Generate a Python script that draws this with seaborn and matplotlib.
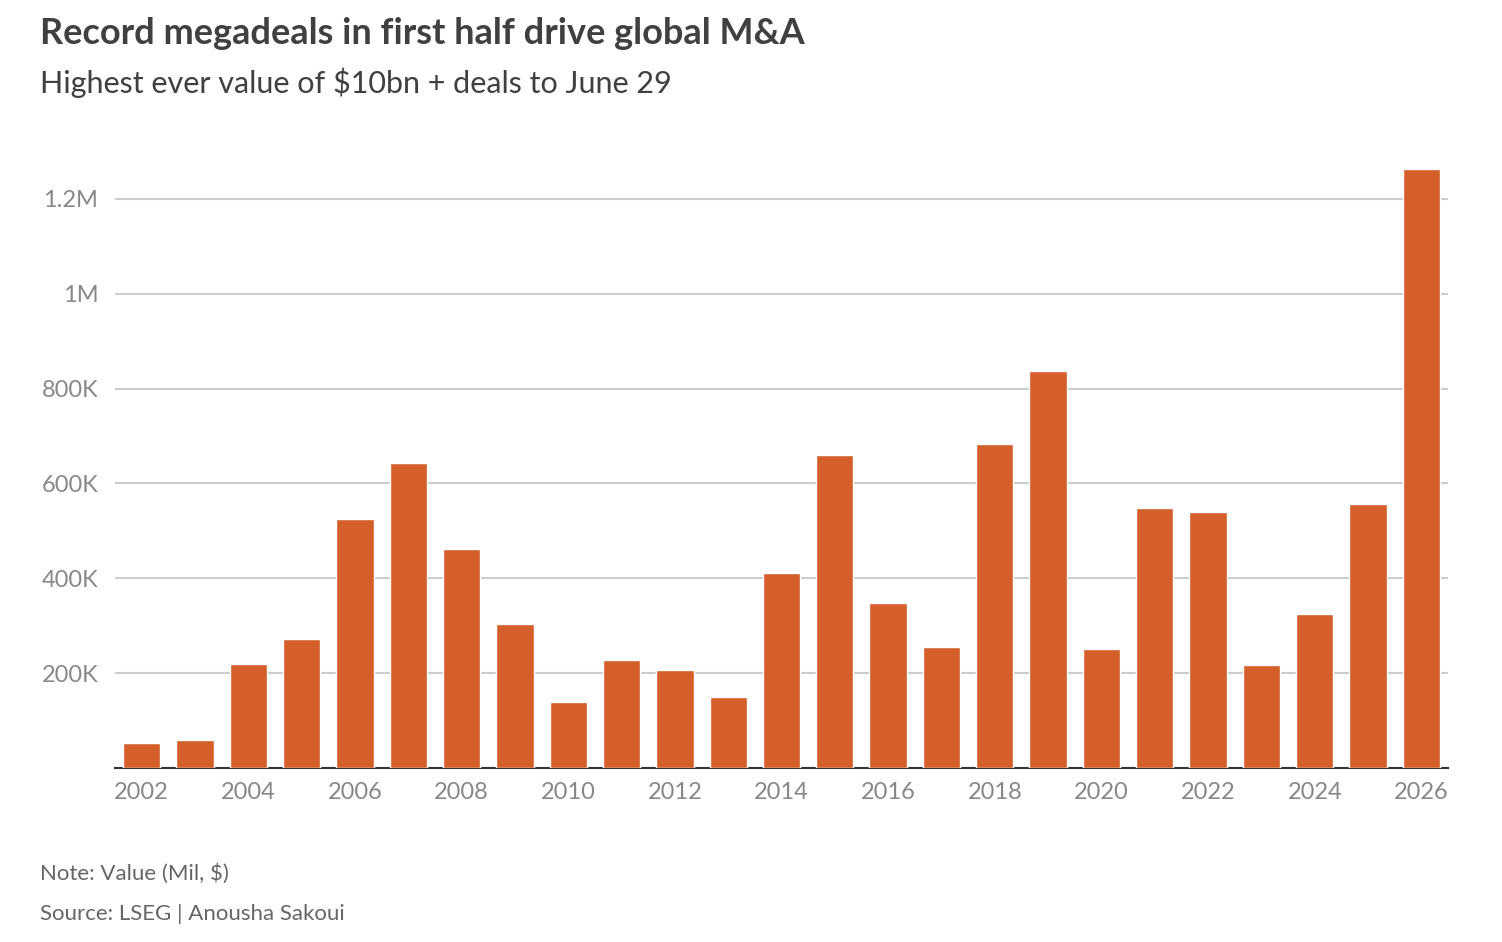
import matplotlib
matplotlib.use("Agg")
import matplotlib.pyplot as plt
import seaborn as sns
import pandas as pd

years = list(range(2002, 2027))
values = [53, 59, 219, 272, 524, 642, 461, 303, 139, 227, 206, 149, 411, 659,
          347, 255, 682, 836, 251, 549, 539, 217, 324, 556, 1263]  # thousand mil $
tick_vals = [200, 400, 600, 800, 1000, 1200]
tick_labels = ["200K", "400K", "600K", "800K", "1M", "1.2M"]

df = pd.DataFrame({"year": years, "value": values})

sns.set_style("white")
plt.rcParams['font.family'] = ['Lato', 'DejaVu Sans']

fig = plt.figure(figsize=(15.02, 9.42), dpi=100)
ax = fig.add_axes([115/1502, 1 - 768/942, (1448-115)/1502, (768-130)/942])

sns.barplot(x="year", y="value", data=df, color="#D45F2B", width=0.7,
            saturation=1, ax=ax, zorder=3)

ax.set_ylim(0, 1345)
ax.set_xlim(-0.5, len(years) - 0.5)
ax.set_yticks(tick_vals)
ax.set_yticklabels(tick_labels)
ax.yaxis.grid(True, color="#cccccc", linewidth=1.5, zorder=0)
ax.set_xticks(range(0, len(years), 2))
ax.set_xticklabels([str(y) for y in years[::2]])
ax.tick_params(axis="both", length=0, labelsize=17, labelcolor="#888888")
ax.tick_params(axis="y", pad=12)
ax.tick_params(axis="x", pad=10)
ax.set_xlabel("")
ax.set_ylabel("")
for s in ["top", "right", "left"]:
    ax.spines[s].set_visible(False)
ax.spines["bottom"].set_color("#333333")
ax.spines["bottom"].set_linewidth(1.5)

fig.text(40/1502, 1 - 33/942, "Record megadeals in first half drive global M&A",
         fontsize=26, fontweight="bold", color="#404040", va="center")
fig.text(40/1502, 1 - 83/942, "Highest ever value of $10bn + deals to June 29",
         fontsize=22, color="#404040", va="center")
fig.text(40/1502, 1 - 874/942, "Note: Value (Mil, $)", fontsize=16, color="#666666", va="center")
fig.text(40/1502, 1 - 914/942, "Source: LSEG | Anousha Sakoui", fontsize=16, color="#666666", va="center")

fig.savefig("out.png", dpi=100)
